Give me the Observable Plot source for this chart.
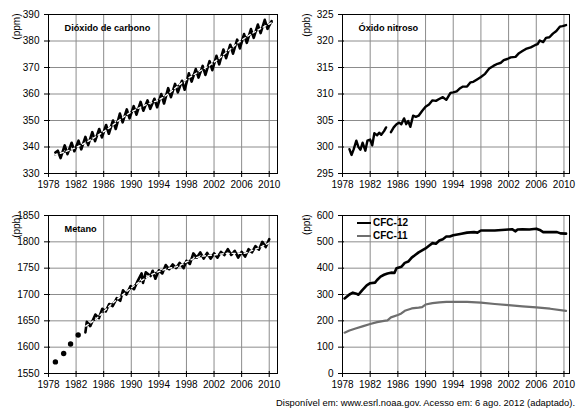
<!DOCTYPE html>
<html>
<head>
<meta charset="utf-8">
<script src="https://cdn.jsdelivr.net/npm/d3@7"></script>
<script src="https://cdn.jsdelivr.net/npm/@observablehq/plot@0.6"></script>
<style>
  body { margin: 0; background: #fff; }
  #c { position: relative; width: 580px; height: 420px; font-family: "Liberation Sans", Arial, sans-serif; background: #fff; }
  #c svg { position: absolute; overflow: visible; }
  .legend { position: absolute; font-size: 10px; font-weight: bold; display: flex; align-items: center; line-height: 12px; }
  .legend span.sw { display: inline-block; width: 14px; margin-right: 2px; }
  #cap { position: absolute; right: 5px; top: 397px; font-size: 9.4px; white-space: nowrap; }
</style>
</head>
<body>
<div id="c"></div>
<script>
// ---------- data ----------
const yearTicks = [1978, 1982, 1986, 1990, 1994, 1998, 2002, 2006, 2010];

// Carbon dioxide (ppm)
const co2Ticks = [330, 340, 350, 360, 370, 380, 390];
const co2Years = [1979.0, 1979.35, 1979.75, 1980.35, 1980.75, 1981.35, 1981.75, 1982.35, 1982.75, 1983.35, 1983.75,
  1984.35, 1984.75, 1985.35, 1985.75, 1986.35, 1986.75, 1987.35, 1987.75, 1988.35, 1988.75, 1989.35, 1989.75,
  1990.35, 1990.75, 1991.35, 1991.75, 1992.35, 1992.75, 1993.35, 1993.75, 1994.35, 1994.75, 1995.35, 1995.75,
  1996.35, 1996.75, 1997.35, 1997.75, 1998.35, 1998.75, 1999.35, 1999.75, 2000.35, 2000.75, 2001.35, 2001.75,
  2002.35, 2002.75, 2003.35, 2003.75, 2004.35, 2004.75, 2005.35, 2005.75, 2006.35, 2006.75, 2007.35, 2007.75,
  2008.35, 2008.75, 2009.35, 2009.75, 2010.35];
const co2Values = [337.9, 338.6, 335.8, 340.6, 337.3, 341.6, 338.4, 342.4, 339.1, 343.8, 340.7,
  345.6, 342.2, 346.8, 343.6, 348.3, 345.0, 350.0, 346.8, 352.6, 349.3, 354.2, 350.8,
  355.4, 352.2, 357.0, 353.7, 357.6, 354.4, 358.2, 355.0, 360.0, 356.4, 362.2, 358.8,
  363.8, 360.6, 365.0, 361.6, 367.8, 364.7, 369.4, 366.2, 370.6, 367.2, 372.4, 369.0,
  374.4, 371.2, 376.8, 373.5, 378.6, 375.2, 380.5, 377.2, 382.6, 379.3, 384.5, 381.2,
  386.2, 383.0, 388.0, 384.6, 387.5];
const co2TrendYears = [1978.9, 1982, 1986, 1990, 1992, 1994, 1998, 2002, 2006, 2010.4];
const co2TrendValues = [337.0, 339.8, 345.8, 353.2, 355.8, 357.8, 365.5, 372.0, 380.3, 387.0];

// Nitrous oxide (ppb) — null marks the gap in the record
const n2oTicks = [295, 300, 305, 310, 315, 320, 325];
const n2oYears = [1979.0, 1979.3, 1979.6, 1980.0, 1980.3, 1980.6, 1980.9, 1981.3, 1981.6, 1982.0, 1982.3, 1982.6, 1983.0, 1983.3, 1983.6, 1984.0, 1984.3,
  1984.6,
  1985.0, 1985.4, 1985.8, 1986.2, 1986.5, 1986.9, 1987.2, 1987.5, 1987.8, 1988.2, 1988.6, 1989.0, 1989.5, 1990.0, 1990.5,
  1991.0, 1991.5, 1991.9, 1992.5, 1993.0, 1993.6, 1994.0, 1994.5, 1995.0, 1995.4, 1996.0, 1996.5, 1996.9, 1997.5,
  1998.0, 1998.6, 1999.2, 1999.8, 2000.4, 2000.9, 2001.3, 2001.8, 2002.3, 2003.0, 2003.5, 2004.0, 2004.5, 2005.2,
  2005.8, 2006.2, 2006.5, 2007.0, 2007.4, 2007.9, 2008.4, 2008.9, 2009.4, 2009.8, 2010.3];
const n2oValues = [299.6, 298.5, 299.5, 301.2, 300.0, 299.5, 300.8, 299.3, 301.2, 301.4, 300.3, 302.6, 302.2, 302.7, 302.3, 303.0, 303.7,
  null,
  302.8, 303.7, 304.3, 304.6, 304.3, 305.4, 304.3, 304.9, 303.8, 305.9, 305.7, 305.9, 306.8, 307.6, 308.0,
  308.8, 308.7, 309.0, 309.4, 308.9, 310.2, 310.3, 310.5, 311.1, 311.4, 311.4, 312.2, 312.3, 312.8,
  313.2, 313.8, 314.8, 315.3, 315.7, 315.9, 316.4, 316.6, 316.9, 317.0, 317.7, 318.1, 318.5, 318.8,
  319.2, 319.4, 320.1, 319.8, 320.6, 320.7, 321.4, 321.9, 322.7, 322.8, 323.0];

// Methane (ppb)
const ch4Ticks = [1550, 1600, 1650, 1700, 1750, 1800, 1850];
const ch4DotYears = [1979.0, 1980.2, 1981.2, 1982.3];
const ch4DotValues = [1572, 1588, 1606, 1623];
const ch4Years = [1983.35, 1983.55, 1984.05, 1984.8, 1985.3, 1985.8, 1986.3, 1986.8, 1987.3, 1987.9, 1988.4, 1988.8,
  1989.3, 1989.9, 1990.4, 1990.9, 1991.5, 1991.7, 1992.1, 1992.8, 1993.1, 1993.5, 1994.0, 1994.5, 1995.0, 1995.5,
  1996.0, 1996.5, 1997.0, 1997.6, 1998.0, 1998.5, 1999.0, 1999.5, 2000.0, 2000.5, 2001.0, 2001.5, 2002.0, 2002.5,
  2003.0, 2003.5, 2004.0, 2004.5, 2005.0, 2005.5, 2006.0, 2006.5, 2007.0, 2007.5, 2008.0, 2008.5, 2009.0, 2009.5, 2010.0];
const ch4Values = [1628, 1648, 1640, 1662, 1655, 1673, 1668, 1682, 1678, 1693, 1688, 1708,
  1700, 1716, 1710, 1725, 1740, 1722, 1742, 1735, 1745, 1730, 1746, 1740, 1756, 1748,
  1757, 1750, 1760, 1750, 1764, 1758, 1778, 1770, 1780, 1768, 1779, 1768, 1778, 1770,
  1781, 1775, 1786, 1775, 1783, 1770, 1781, 1772, 1786, 1780, 1792, 1785, 1800, 1790, 1805];
const ch4TrendYears = [1983.4, 1985, 1987, 1989, 1991, 1993, 1995, 1997, 1998.5, 2000, 2002, 2004, 2006, 2008, 2010];
const ch4TrendValues = [1640, 1655, 1680, 1702, 1722, 1738, 1748, 1755, 1765, 1772, 1775, 1778, 1778, 1786, 1798];

// CFCs (ppt)
const cfcTicks = [0, 100, 200, 300, 400, 500, 600];
const cfc12Years = [1978.3, 1979.0, 1979.5, 1980.0, 1980.3, 1980.8, 1981.5, 1982.0, 1982.7, 1983.0, 1983.5, 1984.0, 1984.5,
  1985.0, 1985.5, 1985.8, 1986.5, 1987.0, 1987.5, 1988.0, 1988.5, 1989.0, 1990.0, 1990.5, 1991.0, 1991.5, 1992.0,
  1992.5, 1993.0, 1993.5, 1994.0, 1995.0, 1996.0, 1997.0, 1997.5, 1998.0, 1999.0, 2000.0, 2001.0, 2002.0, 2002.5,
  2003.0, 2003.3, 2004.0, 2005.0, 2006.0, 2006.5, 2007.0, 2008.0, 2009.0, 2009.5, 2010.3];
const cfc12Values = [285, 300, 307, 303, 299, 315, 335, 343, 345, 355, 368, 375, 380,
  383, 382, 400, 405, 420, 425, 440, 450, 460, 475, 485, 495, 493, 505,
  510, 520, 520, 525, 530, 535, 537, 535, 543, 543, 543, 545, 547, 548,
  540, 547, 548, 547, 550, 545, 537, 537, 537, 532, 531];
const cfc11Years = [1978.3, 1979.0, 1980.0, 1981.0, 1982.0, 1983.0, 1984.0, 1984.5, 1985.0, 1986.0, 1986.5, 1987.0, 1988.0,
  1989.0, 1989.5, 1990.0, 1991.0, 1992.0, 1993.0, 1994.0, 1996.0, 1998.0, 2000.0, 2002.0, 2004.0, 2006.0, 2008.0, 2010.3];
const cfc11Values = [155, 163, 172, 180, 188, 195, 200, 202, 213, 222, 228, 238, 247,
  250, 252, 262, 267, 270, 272, 272, 272, 269, 264, 260, 255, 251, 246, 238];

const seriesLabels = ["CFC-12", "CFC-11"];
const seriesColors = ["#000000", "#6e6e6e"];

// ---------- helpers ----------
const zip = (xs, ys) => xs.map((x, i) => ({x, y: ys[i]}));
const FONT = "Liberation Sans, Arial, Helvetica, sans-serif";
const c = document.getElementById("c");

function panel({left, top, mL, mR, xMax, yDomain, yTicks, unit, title, marks}) {
  const mT = top ? 15 : 14;
  const svg = Plot.plot({
    width: 290, height: 195,
    marginLeft: mL, marginRight: mR, marginTop: mT, marginBottom: 22,
    style: {fontSize: "10px", fontFamily: FONT, color: "#000", background: "transparent", overflow: "visible"},
    x: {domain: [1978, xMax], label: null},
    y: {domain: yDomain, label: null},
    marks: [
      Plot.gridX(yearTicks, {stroke: "#8c8c8c", strokeOpacity: 1, strokeWidth: 1}),
      Plot.gridY(yTicks, {stroke: "#8c8c8c", strokeOpacity: 1, strokeWidth: 1}),
      ...marks,
      Plot.frame({stroke: "#000", strokeWidth: 1}),
      Plot.axisX({ticks: yearTicks, tickFormat: d => String(d), tickSize: 4, tickPadding: 3, label: null}),
      Plot.axisX({ticks: yearTicks, tickFormat: () => "", tickSize: -2, label: null}),
      Plot.axisY({ticks: yTicks, tickFormat: d => String(d), tickSize: 4, tickPadding: 5, label: null}),
      Plot.axisY({ticks: yTicks, tickFormat: () => "", tickSize: -2, label: null}),
      Plot.text([title], {frameAnchor: "top-left", dx: 16, dy: 10, textAnchor: "start", fontWeight: "bold", fontSize: 9.2}),
      Plot.text([unit], {frameAnchor: "top-left", dx: 12 - mL, dy: -1, rotate: -90, textAnchor: "end", fontSize: 10})
    ]
  });
  svg.style.left = left + "px";
  svg.style.top = top + "px";
  c.appendChild(svg);
}

// ---------- panels ----------
panel({
  left: 0, top: 0, mL: 48, mR: 13, xMax: 2011.2,
  yDomain: [330, 390], yTicks: co2Ticks, unit: "(ppm)", title: "Dióxido de carbono",
  marks: [
    Plot.line(zip(co2Years, co2Values), {x: "x", y: "y", stroke: "#000", strokeWidth: 2.6, curve: "linear"}),
    Plot.line(zip(co2TrendYears, co2TrendValues), {x: "x", y: "y", stroke: "#000", strokeWidth: 1.4, curve: "monotone-x"}),
    Plot.line(zip(co2TrendYears, co2TrendValues), {x: "x", y: "y", stroke: "#fff", strokeWidth: 1.4, strokeDasharray: "3,3", curve: "monotone-x"})
  ]
});

panel({
  left: 290, top: 0, mL: 52, mR: 11, xMax: 2010.8,
  yDomain: [295, 325], yTicks: n2oTicks, unit: "(ppb)", title: "Óxido nitroso",
  marks: [
    Plot.line(zip(n2oYears, n2oValues), {x: "x", y: "y", stroke: "#000", strokeWidth: 2.4, defined: d => d.y != null})
  ]
});

panel({
  left: 0, top: 200, mL: 48, mR: 13, xMax: 2011.2,
  yDomain: [1550, 1850], yTicks: ch4Ticks, unit: "(ppb)", title: "Metano",
  marks: [
    Plot.dot(zip(ch4DotYears, ch4DotValues), {x: "x", y: "y", r: 2.7, fill: "#000", stroke: "none"}),
    Plot.line(zip(ch4Years, ch4Values), {x: "x", y: "y", stroke: "#000", strokeWidth: 2.6}),
    Plot.line(zip(ch4TrendYears, ch4TrendValues), {x: "x", y: "y", stroke: "#000", strokeWidth: 1.4, curve: "monotone-x"}),
    Plot.line(zip(ch4TrendYears, ch4TrendValues), {x: "x", y: "y", stroke: "#fff", strokeWidth: 1.4, strokeDasharray: "3,3", curve: "monotone-x"})
  ]
});

panel({
  left: 290, top: 200, mL: 52, mR: 11, xMax: 2010.8,
  yDomain: [0, 600], yTicks: cfcTicks, unit: "(ppt)", title: "",
  marks: [
    Plot.line(zip(cfc11Years, cfc11Values), {x: "x", y: "y", stroke: seriesColors[1], strokeWidth: 2.2}),
    Plot.line(zip(cfc12Years, cfc12Values), {x: "x", y: "y", stroke: seriesColors[0], strokeWidth: 2.6})
  ]
});

// legend for CFC panel
seriesLabels.forEach((lab, i) => {
  const d = document.createElement("div");
  d.className = "legend";
  d.style.left = "357px";
  d.style.top = (217 + i * 13) + "px";
  d.innerHTML = `<span class="sw" style="border-top:${i ? 2.2 : 2.6}px solid ${seriesColors[i]}"></span>${lab}`;
  c.appendChild(d);
});

const cap = document.createElement("div");
cap.id = "cap";
cap.textContent = "Disponível em: www.esrl.noaa.gov. Acesso em: 6 ago. 2012 (adaptado).";
c.appendChild(cap);
</script>
</body>
</html>
